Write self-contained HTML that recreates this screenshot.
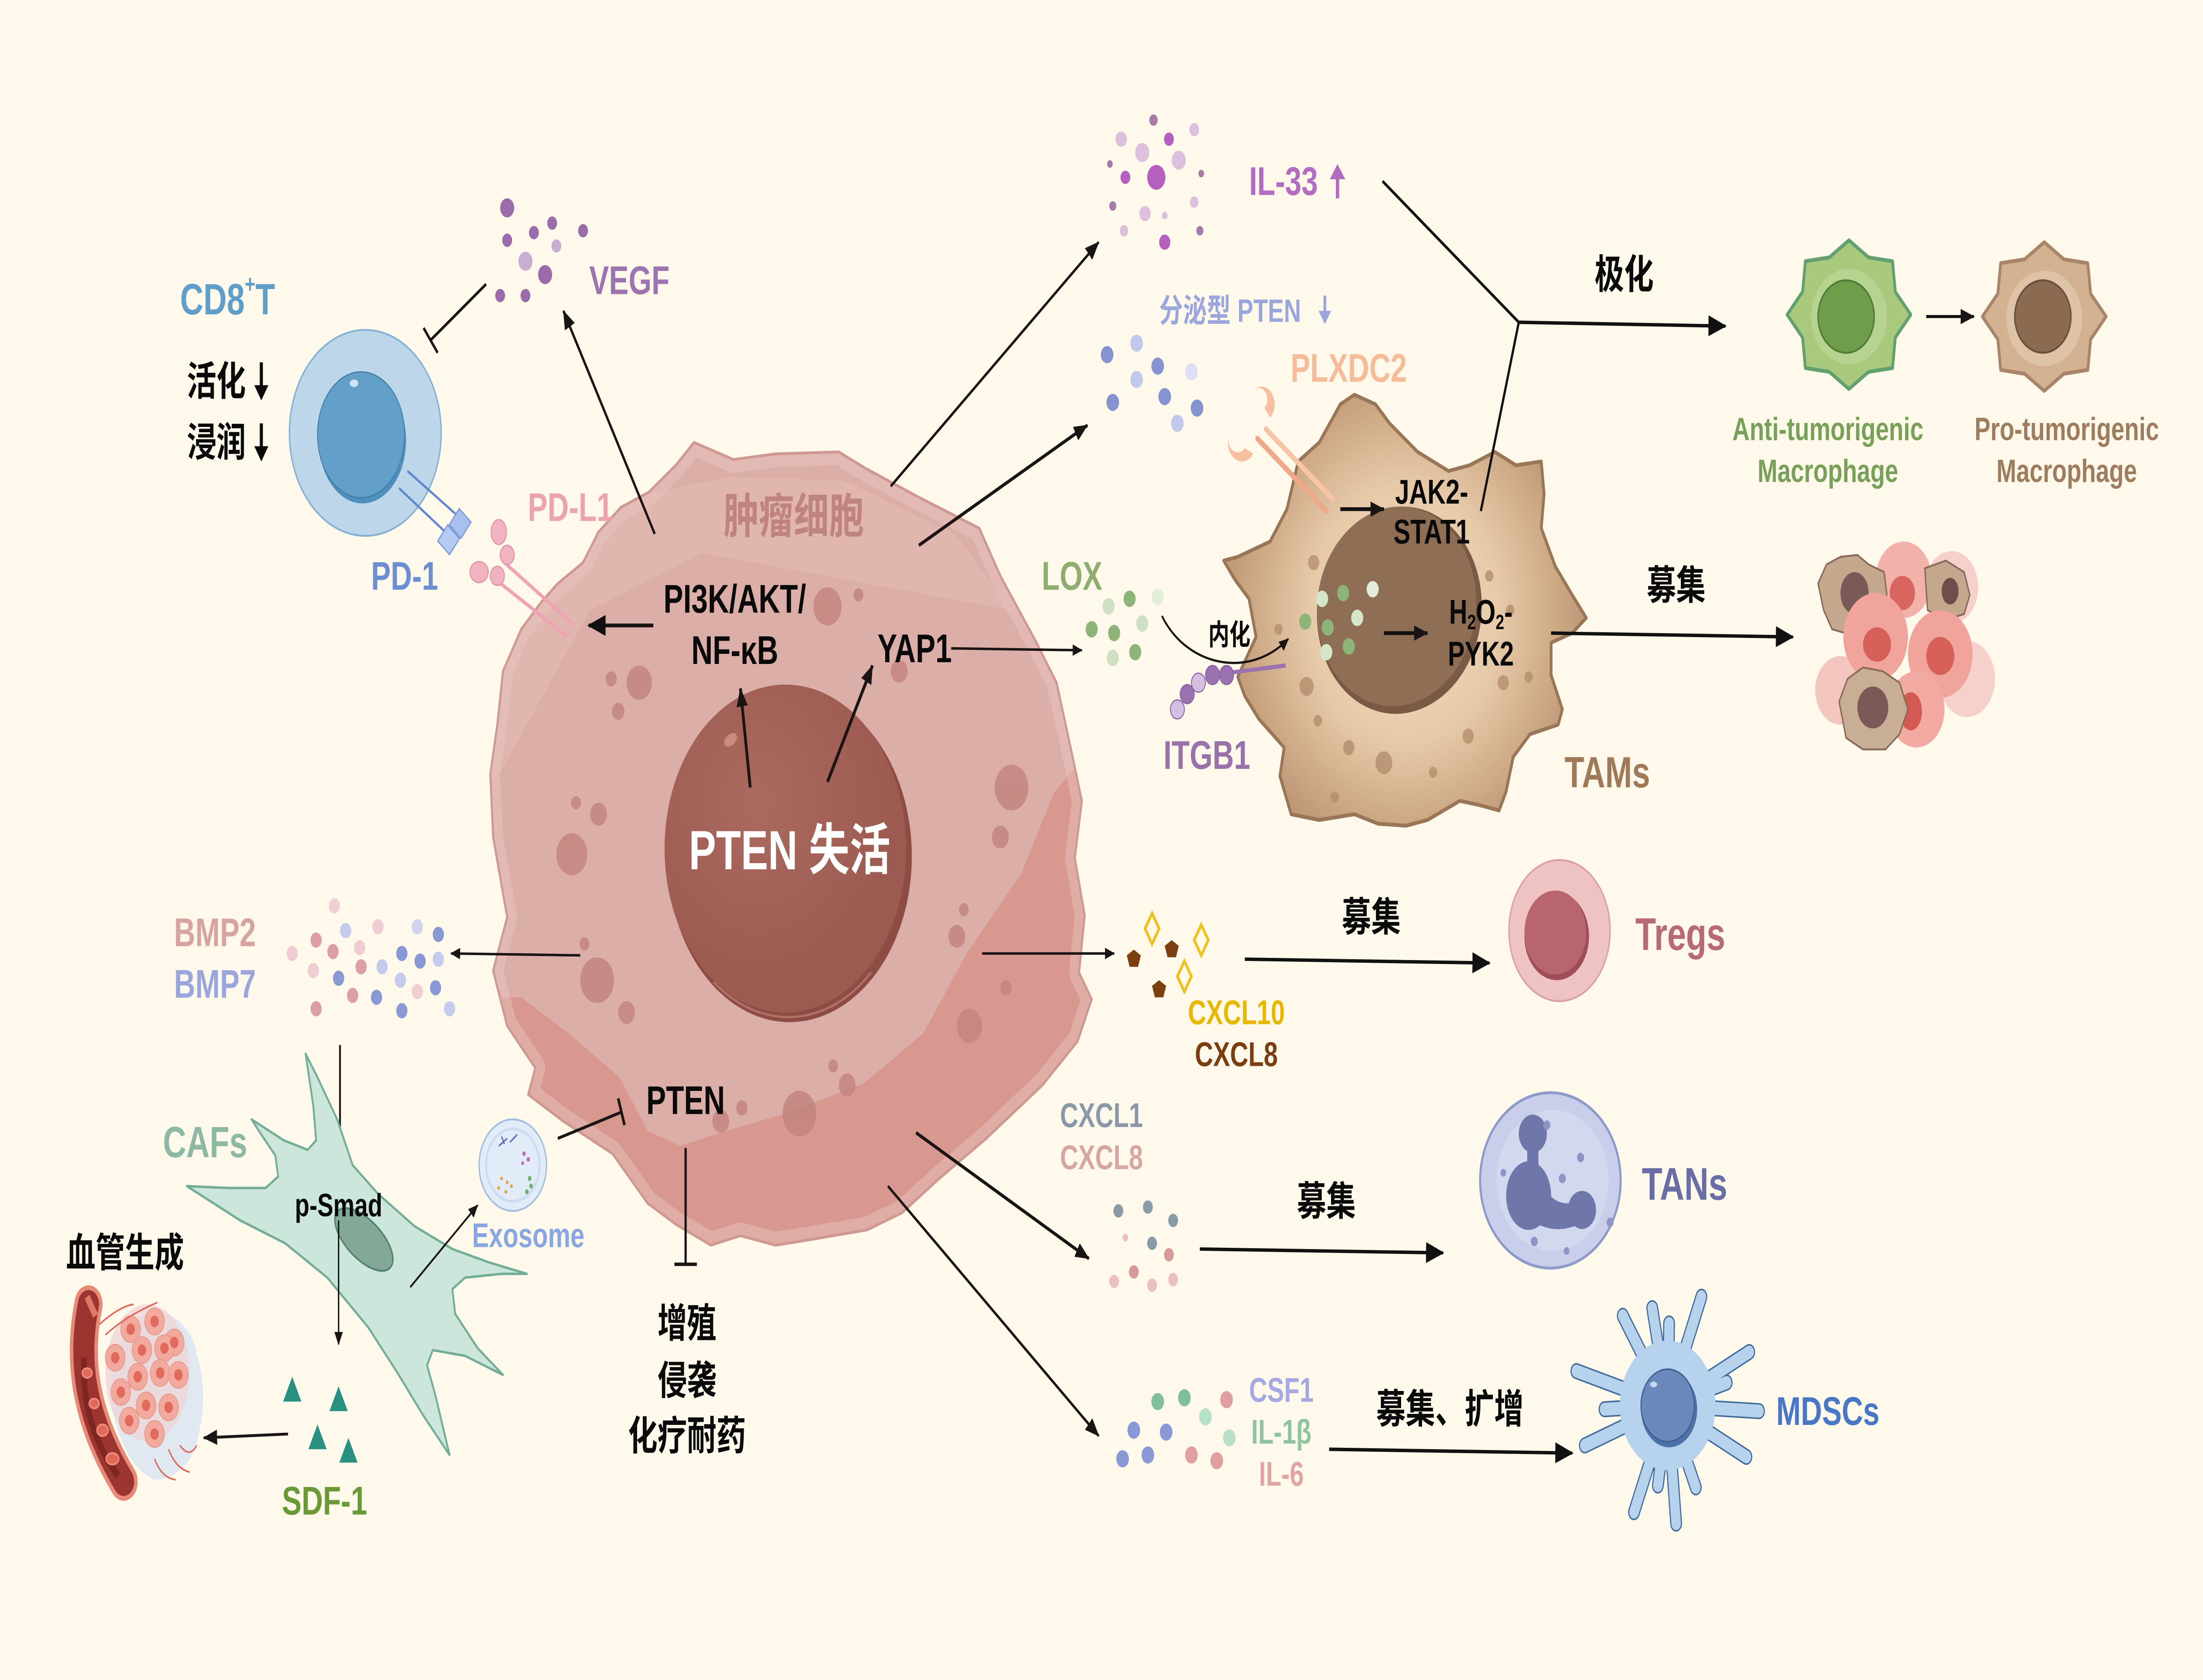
<!DOCTYPE html>
<html><head><meta charset="utf-8">
<style>
html,body{margin:0;padding:0;background:#fef9ea;width:100%;height:100%;overflow:hidden;}
svg{display:block;width:100vw;height:100vh;}
text{font-family:"Liberation Sans","Noto Sans CJK SC",sans-serif;font-weight:bold;dominant-baseline:central;}
</style></head><body>
<svg width="100%" height="100%" viewBox="0 0 1568 881" preserveAspectRatio="none" xmlns="http://www.w3.org/2000/svg">
<defs>
<marker id="a1" markerUnits="userSpaceOnUse" markerWidth="13" markerHeight="11" refX="12" refY="5.5" orient="auto"><path d="M0,0 L13,5.5 L0,11 z" fill="#111"/></marker>
<marker id="a2" markerUnits="userSpaceOnUse" markerWidth="10" markerHeight="8" refX="9.5" refY="4" orient="auto"><path d="M0,0 L10,4 L0,8 z" fill="#1a1414"/></marker>
<marker id="a3" markerUnits="userSpaceOnUse" markerWidth="7" markerHeight="6" refX="6.5" refY="3" orient="auto"><path d="M0,0 L7,3 L0,6 z" fill="#1a1414"/></marker>
<clipPath id="tc"><polygon points="494,232 522,241 552,238 597,237 617,246 652,260 697,277 712,302 737,336 752,358 762,392 770,420 765,450 772,480 768,510 777,524 767,546 742,569 702,597 667,619 642,636 617,645 577,650 552,653 527,648 506,653 481,642 461,631 436,605 401,588 376,574 381,560 361,538 351,509 361,481 351,439 349,406 354,380 358,352 371,330 385,316 397,306 415,295 426,279 442,266 462,258 481,244"/></clipPath>
<radialGradient id="tamg" cx="1000" cy="322" r="135" gradientUnits="userSpaceOnUse">
<stop offset="0" stop-color="#f3dec4"/><stop offset="0.5" stop-color="#e6caa8"/><stop offset="0.78" stop-color="#cfab88"/><stop offset="1" stop-color="#bb9372"/></radialGradient>
<radialGradient id="nucg" cx="540" cy="420" r="100" gradientUnits="userSpaceOnUse">
<stop offset="0" stop-color="#ab6a5f"/><stop offset="1" stop-color="#9c5a50"/></radialGradient>
</defs>

<rect x="0" y="0" width="1568" height="881" fill="#fef9ea"/>

<!-- ============ TUMOR CELL ============ -->
<g clip-path="url(#tc)">
<rect x="340" y="225" width="450" height="440" fill="#dcaea8"/>
<polygon points="340,300 440,262 520,250 600,252 680,280 720,320 500,290 420,320 360,400 340,420" fill="#e2bab4" opacity="0.6"/>
<polygon points="340,523 371,523 405,542 441,565 461,593 484,601 517,593 559,584 615,568 657,542 688,500 727,458 750,416 790,380 790,680 340,680" fill="#d8978f"/>
<polygon points="494,232 522,241 552,238 597,237 617,246 652,260 697,277 712,302 737,336 752,358 762,392 770,420 765,450 772,480 768,510 777,524 767,546 742,569 702,597 667,619 642,636 617,645 577,650 552,653 527,648 506,653 481,642 461,631 436,605 401,588 376,574 381,560 361,538 351,509 361,481 351,439 349,406 354,380 358,352 371,330 385,316 397,306 415,295 426,279 442,266 462,258 481,244" fill="none" stroke="#e8c3bd" stroke-width="14" opacity="0.5" stroke-linejoin="round"/>
</g>
<polygon points="494,232 522,241 552,238 597,237 617,246 652,260 697,277 712,302 737,336 752,358 762,392 770,420 765,450 772,480 768,510 777,524 767,546 742,569 702,597 667,619 642,636 617,645 577,650 552,653 527,648 506,653 481,642 461,631 436,605 401,588 376,574 381,560 361,538 351,509 361,481 351,439 349,406 354,380 358,352 371,330 385,316 397,306 415,295 426,279 442,266 462,258 481,244" fill="none" stroke="#cf9891" stroke-width="1.5" stroke-linejoin="round"/>
<g fill="#c4857f" opacity="0.85">
<circle cx="589" cy="318" r="10"/><circle cx="611" cy="312" r="3.5"/><circle cx="455" cy="358" r="9"/><circle cx="435" cy="356" r="4"/><circle cx="440" cy="373" r="4.5"/>
<circle cx="407" cy="448" r="11"/><circle cx="426" cy="427" r="6"/><circle cx="410" cy="421" r="3.5"/><circle cx="720" cy="413" r="12"/><circle cx="712" cy="439" r="6"/>
<circle cx="681" cy="491" r="6"/><circle cx="686" cy="477" r="3.5"/><circle cx="425" cy="514" r="12"/><circle cx="416" cy="495" r="3.5"/><circle cx="446" cy="531" r="6"/>
<circle cx="690" cy="538" r="9"/><circle cx="716" cy="518" r="4"/><circle cx="569" cy="584" r="12"/><circle cx="603" cy="569" r="6"/><circle cx="593" cy="559" r="3.5"/>
<circle cx="528" cy="581" r="4"/><circle cx="513" cy="588" r="6"/><circle cx="640" cy="352" r="6"/>
</g>
<!-- nucleus -->
<circle cx="562" cy="449" r="87" fill="#8e4d44"/>
<circle cx="559" cy="445" r="86" fill="url(#nucg)"/>
<path d="M 620 510 A 86 86 0 0 1 508 515" fill="none" stroke="#c98a80" stroke-width="1.2" opacity="0.6"/>
<ellipse cx="520" cy="388" rx="5" ry="3" fill="#c98a80" transform="rotate(-30 520 388)"/>
<text x="562" y="446" font-size="29" fill="#ffffff" text-anchor="middle">PTEN 失活</text>
<text x="565" y="271" font-size="25" fill="#c0847e" text-anchor="middle">肿瘤细胞</text>
<text x="523" y="314" font-size="21" fill="#0a0a0a" text-anchor="middle">PI3K/AKT/</text>
<text x="523" y="341" font-size="21" fill="#0a0a0a" text-anchor="middle">NF-κB</text>
<text x="651" y="340" font-size="21" fill="#0a0a0a" text-anchor="middle">YAP1</text>
<text x="488" y="577" font-size="21" fill="#0a0a0a" text-anchor="middle">PTEN</text>

<!-- ============ CD8 T cell ============ -->
<ellipse cx="260" cy="227" rx="54" ry="54" fill="#bdd6ea" stroke="#86b2d4" stroke-width="1"/>
<ellipse cx="258" cy="231" rx="31" ry="33" fill="#4f8fbd"/>
<ellipse cx="257" cy="228" rx="31" ry="33" fill="#62a0ca" stroke="#3f7aa5" stroke-width="0.6"/>
<ellipse cx="252" cy="201" rx="3" ry="2" fill="#cfe3f2"/>
<line x1="290" y1="247" x2="325" y2="270" stroke="#5f86d0" stroke-width="1.3"/>
<line x1="284" y1="256" x2="317" y2="279" stroke="#5f86d0" stroke-width="1.3"/>
<rect x="322" y="269" width="11" height="11" fill="#a9c0ee" stroke="#7f9ad8" stroke-width="0.8" transform="rotate(40 327.5 274.5)"/>
<rect x="314" y="278" width="11" height="11" fill="#b6cbf2" stroke="#7f9ad8" stroke-width="0.8" transform="rotate(40 320 283)"/>
<text x="162" y="157" font-size="23" fill="#5f9ec8" text-anchor="middle">CD8<tspan font-size="13" dy="-8">+</tspan><tspan dy="8">T</tspan></text>
<text x="175" y="200" font-size="21" fill="#0a0a0a" text-anchor="end">活化</text>
<text x="175" y="232" font-size="21" fill="#0a0a0a" text-anchor="end">浸润</text>
<g stroke="#0a0a0a" stroke-width="2.2" fill="#0a0a0a">
<line x1="186" y1="190" x2="186" y2="204"/><polygon points="181,202 191,202 186,210" stroke="none"/>
<line x1="186" y1="222" x2="186" y2="236"/><polygon points="181,234 191,234 186,242" stroke="none"/>
</g>
<text x="288" y="302" font-size="21" fill="#6d8ed2" text-anchor="middle">PD-1</text>

<!-- PD-L1 -->
<line x1="359" y1="295" x2="409" y2="328" stroke="#efa4b6" stroke-width="2"/>
<line x1="353" y1="304" x2="404" y2="334" stroke="#efa4b6" stroke-width="2"/>
<ellipse cx="355" cy="279" rx="5.5" ry="6.5" fill="#f2b3c1" stroke="#e494a8" stroke-width="0.7"/>
<circle cx="361" cy="291" r="5" fill="#f2b3c1" stroke="#e494a8" stroke-width="0.7"/>
<ellipse cx="341" cy="300" rx="6.5" ry="5.5" fill="#f2b3c1" stroke="#e494a8" stroke-width="0.7"/>
<circle cx="354" cy="302" r="5" fill="#f2b3c1" stroke="#e494a8" stroke-width="0.7"/>
<text x="406" y="266" font-size="21" fill="#eca3b0" text-anchor="middle">PD-L1</text>

<!-- VEGF -->
<g fill="#9a6ca9">
<circle cx="361" cy="109" r="5"/><circle cx="393" cy="117" r="3.5"/><circle cx="415" cy="121" r="3.5"/><circle cx="380" cy="122" r="3.5"/><circle cx="361" cy="126" r="3.5"/>
<circle cx="388" cy="144" r="5"/><circle cx="356" cy="155" r="3.5"/><circle cx="374" cy="155" r="3.5"/>
</g>
<circle cx="396" cy="129" r="3.5" fill="#c8afd2"/><circle cx="374" cy="137" r="5" fill="#c8afd2"/>
<text x="448" y="147" font-size="21" fill="#9c74b0" text-anchor="middle">VEGF</text>

<!-- ============ ARROWS (left/center) ============ -->
<g stroke="#1a1414" fill="none">
<line x1="466" y1="280" x2="401" y2="163" stroke-width="1.6" marker-end="url(#a2)"/>
<line x1="346" y1="149" x2="307" y2="178" stroke-width="1.6"/>
<line x1="301.5" y1="172" x2="311.5" y2="185" stroke-width="1.6"/>
<line x1="465" y1="328" x2="419" y2="328" stroke-width="2" marker-end="url(#a1)"/>
<line x1="534" y1="413" x2="527" y2="361" stroke-width="2" marker-end="url(#a2)"/>
<line x1="589" y1="410" x2="621" y2="349" stroke-width="2" marker-end="url(#a2)"/>
<line x1="677" y1="340" x2="770" y2="341" stroke-width="1.3" marker-end="url(#a3)"/>
<line x1="634" y1="255" x2="782" y2="127" stroke-width="1.5" marker-end="url(#a2)"/>
<line x1="654" y1="286" x2="774" y2="223" stroke-width="1.8" marker-end="url(#a2)"/>
<line x1="413" y1="501" x2="321" y2="500" stroke-width="1.3" marker-end="url(#a3)"/>
<line x1="699" y1="500" x2="793" y2="500" stroke-width="1.3" marker-end="url(#a3)"/>
<line x1="652" y1="594" x2="775" y2="660" stroke-width="1.8" marker-end="url(#a2)"/>
<line x1="632" y1="622" x2="782" y2="753" stroke-width="1.5" marker-end="url(#a2)"/>
<line x1="397" y1="597" x2="443" y2="583" stroke-width="1.6"/>
<line x1="440" y1="576" x2="444.5" y2="590" stroke-width="1.8"/>
<line x1="488" y1="602" x2="488" y2="663" stroke-width="1.6"/>
<line x1="480" y1="663" x2="496" y2="663" stroke-width="1.8"/>
<line x1="242" y1="548" x2="242" y2="614" stroke-width="1.3" marker-end="url(#a2)"/>
<line x1="205" y1="752" x2="145" y2="754" stroke-width="1.5" marker-end="url(#a2)"/>
</g>

<!-- ============ BMP ============ -->
<g>
<circle cx="238" cy="475" r="4" fill="#f0cfd4"/><circle cx="225" cy="493" r="4" fill="#dca0a4"/><circle cx="246" cy="488" r="4" fill="#c5cbec"/>
<circle cx="269" cy="486" r="4" fill="#efcdd2"/><circle cx="297" cy="486" r="4" fill="#cfd3f0"/><circle cx="312" cy="490" r="4" fill="#8a98d6"/>
<circle cx="208" cy="500" r="4" fill="#efcdd2"/><circle cx="237" cy="499" r="4" fill="#dca0a4"/><circle cx="256" cy="497" r="4" fill="#efcdd2"/>
<circle cx="286" cy="500" r="4" fill="#8a98d6"/><circle cx="299" cy="504" r="4" fill="#8a98d6"/><circle cx="312" cy="503" r="4" fill="#c5cbec"/>
<circle cx="223" cy="509" r="4" fill="#efcdd2"/><circle cx="241" cy="513" r="4" fill="#8a98d6"/><circle cx="257" cy="507" r="4" fill="#dca0a4"/>
<circle cx="272" cy="507" r="4" fill="#c5cbec"/><circle cx="285" cy="514" r="4" fill="#c5cbec"/><circle cx="297" cy="520" r="4" fill="#efcdd2"/>
<circle cx="310" cy="518" r="4" fill="#8a98d6"/><circle cx="251" cy="522" r="4" fill="#dca0a4"/><circle cx="268" cy="523" r="4" fill="#8a98d6"/>
<circle cx="225" cy="529" r="4" fill="#dca0a4"/><circle cx="286" cy="530" r="4" fill="#8a98d6"/><circle cx="320" cy="529" r="4" fill="#c5cbec"/>
</g>
<text x="153" y="489" font-size="21" fill="#d8a4a0" text-anchor="middle">BMP2</text>
<text x="153" y="516" font-size="21" fill="#9aa6dc" text-anchor="middle">BMP7</text>

<!-- ============ CAF ============ -->
<polygon points="217.5,552.6 226,565 240,587 251,611 269,626 295,643 322,655 348,662 375,668 357,668 331,670 322,676 324,689 340,707 358,721 331,711 308,708 304,716 310,732 320,763 301,742 283,720 262,696 233,670 203,652 171,640 133,622 163,623 189,623 198,617 196,606 186,595 179,587 202,598 219,603 225,598 223,580" fill="#cde6dc" stroke="#73ad98" stroke-width="1.3" stroke-linejoin="round"/>
<ellipse cx="259" cy="650" rx="24" ry="11" fill="#84a898" stroke="#4f8272" stroke-width="1" transform="rotate(35 259 650)"/>
<text x="146" y="599" font-size="23" fill="#8cb8a4" text-anchor="middle">CAFs</text>
<line x1="241" y1="640" x2="241" y2="705" stroke="#1a1414" stroke-width="1" marker-end="url(#a3)"/>
<text x="241" y="632" font-size="17" fill="#0a0a0a" text-anchor="middle">p-Smad</text>
<line x1="292" y1="675" x2="340" y2="632" stroke="#1a1414" stroke-width="1.1" marker-end="url(#a3)"/>

<!-- Exosome -->
<circle cx="365" cy="611" r="24" fill="#e2ecf8" stroke="#a6bfe0" stroke-width="1"/>
<circle cx="365" cy="611" r="19" fill="none" stroke="#cddcef" stroke-width="1.5"/>
<g fill="#e8a050"><circle cx="357" cy="618" r="1"/><circle cx="361" cy="620" r="1"/><circle cx="355" cy="623" r="1"/><circle cx="360" cy="625" r="1"/><circle cx="364" cy="622" r="1"/></g>
<g fill="#c070b0"><circle cx="373" cy="605" r="1.2"/><circle cx="376" cy="608" r="1.2"/><circle cx="372" cy="610" r="1"/></g>
<g fill="#70b070"><circle cx="377" cy="618" r="1.3"/><circle cx="378" cy="622" r="1.3"/><circle cx="375" cy="625" r="1.3"/></g>
<path d="M355 601 l6 -4 M357 596 l2 4 M363 599 l5 -4" stroke="#6070b8" stroke-width="0.9"/>
<text x="376" y="648" font-size="18" fill="#88a6e0" text-anchor="middle">Exosome</text>

<!-- SDF-1 -->
<g fill="#2a9080">
<polygon points="208,722 201.5,735 214.5,735"/><polygon points="241,727 234.5,740 247.5,740"/>
<polygon points="226,747 219.5,760 232.5,760"/><polygon points="248,754 241.5,767 254.5,767"/>
</g>
<text x="231" y="787" font-size="21" fill="#6a9a38" text-anchor="middle">SDF-1</text>
<text x="89" y="657" font-size="21" fill="#0a0a0a" text-anchor="middle">血管生成</text>

<!-- vessel & tumor -->
<path d="M108,687 Q135,690 140,710 Q148,730 142,750 Q136,775 110,776 Q90,770 80,740 Q75,700 108,687z" fill="#dde6f2" opacity="0.9"/>
<ellipse cx="105" cy="720" rx="30" ry="36" fill="#ecd6d8" opacity="0.8"/>
<g fill="#f2aa9e" stroke="#e6968a" stroke-width="0.5">
<circle cx="93" cy="697" r="7"/><circle cx="110" cy="693" r="7"/><circle cx="124" cy="704" r="7"/><circle cx="101" cy="708" r="7"/><circle cx="117" cy="707" r="7"/>
<circle cx="82" cy="712" r="7"/><circle cx="98" cy="722" r="7"/><circle cx="114" cy="720" r="7"/><circle cx="127" cy="721" r="7"/>
<circle cx="86" cy="730" r="7"/><circle cx="104" cy="737" r="7"/><circle cx="120" cy="738" r="7"/><circle cx="92" cy="745" r="7"/><circle cx="110" cy="752" r="7"/>
</g>
<g fill="#e06a5e">
<circle cx="93" cy="697" r="3"/><circle cx="110" cy="693" r="3"/><circle cx="124" cy="704" r="3"/><circle cx="101" cy="708" r="3"/><circle cx="117" cy="707" r="3"/>
<circle cx="82" cy="712" r="3"/><circle cx="98" cy="722" r="3"/><circle cx="114" cy="720" r="3"/><circle cx="127" cy="721" r="3"/>
<circle cx="86" cy="730" r="3"/><circle cx="104" cy="737" r="3"/><circle cx="120" cy="738" r="3"/><circle cx="92" cy="745" r="3"/><circle cx="110" cy="752" r="3"/>
</g>
<path d="M70,695 Q85,685 95,684 M75,700 Q90,690 112,683 M120,760 Q125,770 135,772 M128,758 Q135,765 140,758 M110,765 Q115,775 125,776" stroke="#e06858" stroke-width="0.9" fill="none"/>
<path d="M63,684 C56,710 58,740 88,777" stroke="#e88a78" stroke-width="20" fill="none" stroke-linecap="round"/>
<path d="M63,684 C56,710 58,740 88,777" stroke="#9c3430" stroke-width="15" fill="none" stroke-linecap="round"/>
<path d="M60,712 C58,735 66,755 84,774" stroke="#7e2622" stroke-width="4" fill="none"/>
<g fill="#e0695a" stroke="#f08a7a" stroke-width="1"><ellipse cx="62" cy="720" rx="3.5" ry="2.5"/><ellipse cx="67" cy="736" rx="3.5" ry="2.5"/><ellipse cx="73" cy="750" rx="4" ry="3"/><ellipse cx="80" cy="765" rx="4.5" ry="3"/></g>
<path d="M62,680 L68,690" stroke="#e07866" stroke-width="4"/>

<!-- ============ PTEN outcomes ============ -->
<text x="489" y="694" font-size="21" fill="#0a0a0a" text-anchor="middle">增殖</text>
<text x="489" y="724" font-size="21" fill="#0a0a0a" text-anchor="middle">侵袭</text>
<text x="489" y="753" font-size="21" fill="#0a0a0a" text-anchor="middle">化疗耐药</text>

<!-- ============ IL-33 ============ -->
<g>
<circle cx="821" cy="63" r="3" fill="#a87aa8"/><circle cx="798" cy="73" r="4" fill="#dcc0de"/><circle cx="832" cy="73" r="3.5" fill="#b55fbf"/><circle cx="850" cy="68" r="3.5" fill="#dcc0de"/>
<circle cx="813" cy="80" r="5" fill="#dcc0de"/><circle cx="839" cy="84" r="5" fill="#dcc0de"/><circle cx="790" cy="86" r="2" fill="#a87aa8"/><circle cx="823" cy="93" r="6.5" fill="#b55fbf"/>
<circle cx="801" cy="93" r="3.5" fill="#b55fbf"/><circle cx="855" cy="91" r="2" fill="#a87aa8"/><circle cx="792" cy="108" r="2.5" fill="#a87aa8"/><circle cx="815" cy="112" r="4" fill="#dcc0de"/>
<circle cx="829" cy="113" r="2" fill="#dcc0de"/><circle cx="850" cy="106" r="3" fill="#dcc0de"/><circle cx="800" cy="121" r="3" fill="#dcc0de"/><circle cx="829" cy="127" r="4" fill="#b55fbf"/><circle cx="854" cy="121" r="2.5" fill="#a87aa8"/>
</g>
<text x="889" y="95" font-size="21" fill="#b26cc0">IL-33</text>
<g stroke="#b26cc0" stroke-width="2.4" fill="#b26cc0">
<line x1="952" y1="92" x2="952" y2="104"/><polygon points="946.5,94 957.5,94 952,86" stroke="none"/>
</g>

<!-- secreted PTEN -->
<g>
<circle cx="788" cy="186" r="4.5" fill="#8593d0"/><circle cx="809" cy="180" r="4.5" fill="#c3c9ec"/><circle cx="824" cy="192" r="4.5" fill="#8593d0"/>
<circle cx="848" cy="195" r="4.5" fill="#dde0f4"/><circle cx="809" cy="199" r="4.5" fill="#c3c9ec"/><circle cx="792" cy="211" r="4.5" fill="#8593d0"/>
<circle cx="829" cy="208" r="4.5" fill="#8593d0"/><circle cx="852" cy="214" r="4.5" fill="#8593d0"/><circle cx="838" cy="222" r="4.5" fill="#c3c9ec"/>
</g>
<text x="825" y="163" font-size="17" fill="#9aa6dc">分泌型 PTEN</text>
<g stroke="#9aa6dc" stroke-width="2" fill="#9aa6dc">
<line x1="943" y1="155" x2="943" y2="165"/><polygon points="938.5,163 947.5,163 943,170" stroke="none"/>
</g>
<text x="960" y="193" font-size="21" fill="#f4bc98" text-anchor="middle">PLXDC2</text>

<!-- ============ TAM ============ -->
<polygon points="964,207 979,212 989,222 1009,237 1031,247 1046,244 1064,237 1079,244 1097,242 1099,259 1097,277 1107,297 1119,312 1129,324 1119,332 1104,337 1104,354 1112,372 1109,380 1089,385 1077,397 1072,415 1067,425 1052,422 1039,420 1016,430 1001,433 981,432 964,427 939,430 919,427 911,407 914,392 896,377 886,365 881,355 894,334 889,314 879,304 871,294 881,292 904,284 916,267 924,242 939,232 954,212" fill="url(#tamg)" stroke="#9a7658" stroke-width="2" stroke-linejoin="round"/>
<g fill="#b48e6e" opacity="0.8">
<circle cx="935" cy="295" r="4"/><circle cx="930" cy="360" r="5"/><circle cx="938" cy="378" r="3"/><circle cx="960" cy="392" r="4"/><circle cx="985" cy="400" r="6"/>
<circle cx="1060" cy="302" r="3"/><circle cx="1075" cy="320" r="3"/><circle cx="1070" cy="358" r="4"/><circle cx="1045" cy="386" r="4"/><circle cx="1020" cy="405" r="3"/>
<circle cx="910" cy="330" r="3"/><circle cx="1088" cy="355" r="3"/><circle cx="950" cy="418" r="3"/>
</g>
<ellipse cx="996" cy="320" rx="59" ry="54" fill="#7a5a45" transform="rotate(-15 996 320)"/>
<ellipse cx="994" cy="318" rx="57" ry="52" fill="#8f6e56" transform="rotate(-15 994 318)"/>
<!-- PLXDC2 receptor -->
<line x1="895" y1="230" x2="944" y2="268" stroke="#f0a888" stroke-width="3" stroke-linecap="round"/>
<line x1="901" y1="225" x2="949" y2="262" stroke="#f6c4a6" stroke-width="3" stroke-linecap="round"/>
<path d="M892,205 a9,9 0 1 1 12,14 l-4,-5 a4,4 0 0 0 -8,-9z" fill="#f6bf9f"/>
<path d="M876,226 a10,10 0 1 0 16,12 l-6,-3 a4,4 0 0 1 -10,-9z" fill="#f6bf9f"/>
<!-- green LOX dots -->
<g>
<circle cx="941" cy="314" r="4.3" fill="#d4e6c8"/><circle cx="956" cy="311" r="4.3" fill="#8db57a"/><circle cx="977" cy="309" r="4.3" fill="#e2eed8"/>
<circle cx="929" cy="326" r="4.3" fill="#8db57a"/><circle cx="945" cy="329" r="4.3" fill="#8db57a"/><circle cx="966" cy="324" r="4.3" fill="#d4e6c8"/>
<circle cx="944" cy="342" r="4.3" fill="#d4e6c8"/><circle cx="960" cy="339" r="4.3" fill="#8db57a"/>
<circle cx="789" cy="318" r="4.3" fill="#cfe0c3"/><circle cx="804" cy="314" r="4.3" fill="#8db57a"/><circle cx="824" cy="313" r="4.3" fill="#e2eed8"/>
<circle cx="777" cy="330" r="4.3" fill="#8db57a"/><circle cx="793" cy="332" r="4.3" fill="#8db57a"/><circle cx="813" cy="327" r="4.3" fill="#cfe0c3"/>
<circle cx="792" cy="345" r="4.3" fill="#cfe0c3"/><circle cx="808" cy="342" r="4.3" fill="#8db57a"/>
</g>
<text x="763" y="302" font-size="21" fill="#8eae6f" text-anchor="middle">LOX</text>
<path d="M827,323 C845,350 890,356 917,335" stroke="#1a1414" stroke-width="1.2" fill="none" marker-end="url(#a3)"/>
<text x="875" y="333" font-size="15" fill="#0a0a0a" text-anchor="middle">内化</text>
<!-- ITGB1 -->
<line x1="873" y1="353" x2="915" y2="349" stroke="#9b72b0" stroke-width="2.2"/>
<g stroke="#8a62a0" stroke-width="0.6">
<circle cx="838" cy="372" r="5" fill="#d4bfe0"/><circle cx="845" cy="364" r="5" fill="#9b72b0"/><circle cx="853" cy="358" r="5" fill="#d4bfe0"/><circle cx="863" cy="354" r="5" fill="#9b72b0"/><circle cx="873" cy="354" r="5" fill="#9b72b0"/>
</g>
<text x="859" y="396" font-size="21" fill="#9a72aa" text-anchor="middle">ITGB1</text>
<g stroke="#111" stroke-width="2" fill="none">
<line x1="954" y1="267" x2="985" y2="267" marker-end="url(#a2)"/>
<line x1="985" y1="332" x2="1016" y2="332" marker-end="url(#a2)"/>
</g>
<text x="1019" y="258" font-size="18" fill="#0a0a0a" text-anchor="middle">JAK2-</text>
<text x="1019" y="279" font-size="18" fill="#0a0a0a" text-anchor="middle">STAT1</text>
<text x="1054" y="321" font-size="18" fill="#0a0a0a" text-anchor="middle">H<tspan font-size="11" dy="5">2</tspan><tspan dy="-5">O</tspan><tspan font-size="11" dy="5">2</tspan><tspan dy="-5">-</tspan></text>
<text x="1054" y="343" font-size="18" fill="#0a0a0a" text-anchor="middle">PYK2</text>
<text x="1144" y="405" font-size="23" fill="#9e7a58" text-anchor="middle">TAMs</text>

<!-- polarization -->
<g stroke="#111" fill="none">
<line x1="984" y1="95" x2="1081" y2="169" stroke-width="1.6"/>
<line x1="1054" y1="268" x2="1081" y2="169" stroke-width="1.6"/>
<line x1="1081" y1="169" x2="1228" y2="171" stroke-width="1.8" marker-end="url(#a1)"/>
<line x1="1371" y1="166" x2="1405" y2="166" stroke-width="1.6" marker-end="url(#a2)"/>
<line x1="1104" y1="332" x2="1276" y2="334" stroke-width="1.8" marker-end="url(#a1)"/>
<line x1="886" y1="503" x2="1060" y2="505" stroke-width="1.8" marker-end="url(#a1)"/>
<line x1="854" y1="655" x2="1027" y2="657" stroke-width="1.8" marker-end="url(#a1)"/>
<line x1="946" y1="760" x2="1119" y2="762" stroke-width="1.8" marker-end="url(#a1)"/>
</g>
<text x="1156" y="144" font-size="21" fill="#0a0a0a" text-anchor="middle">极化</text>

<!-- macrophages -->
<polygon points="1360,165 1349,177 1347,193 1330,195 1316,204 1302,195 1285,193 1283,177 1272,165 1283,153 1285,137 1302,135 1316,126 1330,135 1347,137 1349,153" fill="#a9c97c" stroke="#62a070" stroke-width="2" stroke-linejoin="round"/>
<ellipse cx="1316" cy="166" rx="27" ry="25" fill="#bcd898" opacity="0.7"/>
<ellipse cx="1314" cy="166" rx="20" ry="19" fill="#6f9d4a" stroke="#4f7a38" stroke-width="1"/>
<polygon points="1499,166 1488,178 1486,194 1469,196 1455,205 1441,196 1424,194 1422,178 1411,166 1422,154 1424,138 1441,136 1455,127 1469,136 1486,138 1488,154" fill="#d3b291" stroke="#a8846a" stroke-width="2" stroke-linejoin="round"/>
<ellipse cx="1455" cy="167" rx="27" ry="25" fill="#e4cbb0" opacity="0.7"/>
<ellipse cx="1454" cy="166" rx="20" ry="19" fill="#8a6a50" stroke="#6a4e3c" stroke-width="1"/>
<text x="1301" y="225" font-size="17" fill="#79a058" text-anchor="middle">Anti-tumorigenic</text>
<text x="1301" y="247" font-size="17" fill="#79a058" text-anchor="middle">Macrophage</text>
<text x="1471" y="225" font-size="17" fill="#9e7c5e" text-anchor="middle">Pro-tumorigenic</text>
<text x="1471" y="247" font-size="17" fill="#9e7c5e" text-anchor="middle">Macrophage</text>
<text x="1193" y="307" font-size="21" fill="#0a0a0a" text-anchor="middle">募集</text>

<!-- cluster -->
<g>
<circle cx="1389" cy="308" r="19" fill="#f6d0ca"/><circle cx="1400" cy="356" r="20" fill="#f6d0ca"/><circle cx="1310" cy="362" r="18" fill="#f4c6c0"/>
<circle cx="1355" cy="304" r="20" fill="#f2b2aa"/>
<circle cx="1354" cy="311" r="9" fill="#d8665e"/>
<polygon points="1294,306 1300,296 1310,292 1322,291 1330,296 1341,300 1343,312 1339,324 1330,333 1318,333 1304,330 1298,320" fill="#c4a88e" stroke="#8a6a5a" stroke-width="1"/>
<ellipse cx="1320" cy="311" rx="10" ry="11" fill="#7a5a56"/>
<polygon points="1370,298 1385,294 1398,300 1402,312 1398,322 1385,325 1372,320" fill="#c4a88e" stroke="#8a6a5a" stroke-width="1"/>
<ellipse cx="1388" cy="310" rx="6" ry="7" fill="#6e4e4a"/>
<circle cx="1335" cy="334" r="23" fill="#f0a49c"/><ellipse cx="1336" cy="338" rx="10" ry="9" fill="#d8605a"/>
<circle cx="1381" cy="343" r="23" fill="#f0a49c"/><ellipse cx="1381" cy="344" rx="10" ry="10" fill="#d8605a"/>
<circle cx="1364" cy="372" r="20" fill="#f2aaa2"/><ellipse cx="1360" cy="373" rx="8" ry="10" fill="#d45a54"/>
<polygon points="1309,368 1315,356 1326,350 1340,352 1352,358 1358,372 1352,385 1342,393 1326,393 1314,387" fill="#c8ae94" stroke="#8a6a5a" stroke-width="1"/>
<ellipse cx="1333" cy="371" rx="11" ry="11" fill="#7a5a56"/>
</g>

<!-- ============ Tregs ============ -->
<g>
<polygon points="820,479 825,487 820,495 815,487" fill="none" stroke="#f0c020" stroke-width="1.8"/>
<polygon points="855,485 860,493 855,501 850,493" fill="none" stroke="#f0c020" stroke-width="1.8"/>
<polygon points="843,504 848,512 843,520 838,512" fill="none" stroke="#f0c020" stroke-width="1.8"/>
<polygon points="807,498 812,501 810,507 804,507 802,501" fill="#7b3f10"/>
<polygon points="834,493 839,496 837,502 831,502 829,496" fill="#7b3f10"/>
<polygon points="825,514 830,517 828,523 822,523 820,517" fill="#7b3f10"/>
</g>
<text x="880" y="531" font-size="18" fill="#e8b800" text-anchor="middle">CXCL10</text>
<text x="880" y="553" font-size="18" fill="#7a3e12" text-anchor="middle">CXCL8</text>
<text x="976" y="481" font-size="21" fill="#0a0a0a" text-anchor="middle">募集</text>
<ellipse cx="1110" cy="488" rx="36" ry="37" fill="#eec3c2" stroke="#dba0a2" stroke-width="1"/>
<circle cx="1108" cy="491" r="23" fill="#9e4e58"/>
<circle cx="1107" cy="489" r="22" fill="#b8656d"/>
<text x="1196" y="490" font-size="24" fill="#b86a74" text-anchor="middle">Tregs</text>

<!-- ============ TANs ============ -->
<g>
<circle cx="796" cy="635" r="3.5" fill="#8a9aa6"/><circle cx="817" cy="633" r="3.5" fill="#8a9aa6"/><circle cx="835" cy="640" r="3.5" fill="#8a9aa6"/>
<circle cx="820" cy="652" r="3.5" fill="#8a9aa6"/><circle cx="832" cy="658" r="3.5" fill="#d89a98"/><circle cx="801" cy="649" r="2" fill="#eac0c4"/>
<circle cx="807" cy="667" r="3.5" fill="#d89a98"/><circle cx="793" cy="672" r="3.5" fill="#eac0c4"/><circle cx="820" cy="674" r="3.5" fill="#eac0c4"/><circle cx="835" cy="671" r="3.5" fill="#eac0c4"/>
</g>
<text x="784" y="585" font-size="18" fill="#8a98a8" text-anchor="middle">CXCL1</text>
<text x="784" y="607" font-size="18" fill="#d8a6a2" text-anchor="middle">CXCL8</text>
<text x="944" y="630" font-size="21" fill="#0a0a0a" text-anchor="middle">募集</text>
<ellipse cx="1103.5" cy="619" rx="50" ry="46" fill="#c9cfea" stroke="#8e9bc8" stroke-width="1.5"/>
<ellipse cx="1105" cy="619" rx="40" ry="37" fill="#d6dbf0" opacity="0.7"/>
<g fill="#6f76aa">
<circle cx="1091" cy="594.5" r="10"/>
<rect x="1087" y="596" width="8" height="16"/>
<ellipse cx="1088" cy="627" rx="16" ry="18"/>
<circle cx="1126" cy="634.5" r="10"/>
<path d="M1090,640 Q1106,648 1124,642 L1122,630 Q1108,634 1098,622z"/>
</g>
<g fill="#8e95c4"><circle cx="1101" cy="590" r="2.5"/><circle cx="1125" cy="607" r="2.5"/><circle cx="1112" cy="618" r="2.5"/><circle cx="1070" cy="615" r="2"/><circle cx="1146" cy="641" r="2.5"/><circle cx="1092" cy="651" r="2.5"/><circle cx="1115" cy="656" r="2"/></g>
<text x="1199" y="621" font-size="24" fill="#6a6ea6" text-anchor="middle">TANs</text>

<!-- ============ MDSCs ============ -->
<g>
<circle cx="824" cy="735" r="4.5" fill="#7fbf9a"/><circle cx="843" cy="733" r="4.5" fill="#7fbf9a"/><circle cx="873" cy="734" r="4.5" fill="#e0a0a0"/>
<circle cx="858" cy="743" r="4.5" fill="#b8e0c8"/><circle cx="807" cy="750" r="4.5" fill="#8a98d8"/><circle cx="830" cy="751" r="4.5" fill="#8a98d8"/>
<circle cx="875" cy="754" r="4.5" fill="#b8e0c8"/><circle cx="799" cy="765" r="4.5" fill="#8a98d8"/><circle cx="817" cy="763" r="4.5" fill="#8a98d8"/>
<circle cx="848" cy="763" r="4.5" fill="#e0a0a0"/><circle cx="866" cy="766" r="4.5" fill="#e0a0a0"/>
</g>
<text x="912" y="729" font-size="18" fill="#a6a8e4" text-anchor="middle">CSF1</text>
<text x="912" y="751" font-size="18" fill="#8ec4a0" text-anchor="middle">IL-1β</text>
<text x="912" y="773" font-size="18" fill="#e0a4a4" text-anchor="middle">IL-6</text>
<text x="1032" y="739" font-size="21" fill="#0a0a0a" text-anchor="middle">募集、扩增</text>
<g stroke="#3f6a9c" stroke-width="8.4" stroke-linecap="round" fill="none">
<line x1="1187" y1="737" x2="1211" y2="680"/><line x1="1187" y1="737" x2="1176" y2="686"/><line x1="1187" y1="737" x2="1188" y2="694"/>
<line x1="1187" y1="737" x2="1155" y2="690"/><line x1="1187" y1="737" x2="1122" y2="719"/><line x1="1187" y1="737" x2="1142" y2="739"/>
<line x1="1187" y1="737" x2="1128" y2="758"/><line x1="1187" y1="737" x2="1163" y2="793"/><line x1="1187" y1="737" x2="1180" y2="779"/>
<line x1="1187" y1="737" x2="1193" y2="799"/><line x1="1187" y1="737" x2="1207" y2="780"/><line x1="1187" y1="737" x2="1243" y2="764"/>
<line x1="1187" y1="737" x2="1252" y2="740"/><line x1="1187" y1="737" x2="1229" y2="725"/><line x1="1187" y1="737" x2="1245" y2="709"/>
</g>
<g stroke="#b6d2ec" stroke-width="6.8" stroke-linecap="round" fill="none">
<line x1="1187" y1="737" x2="1211" y2="680"/><line x1="1187" y1="737" x2="1176" y2="686"/><line x1="1187" y1="737" x2="1188" y2="694"/>
<line x1="1187" y1="737" x2="1155" y2="690"/><line x1="1187" y1="737" x2="1122" y2="719"/><line x1="1187" y1="737" x2="1142" y2="739"/>
<line x1="1187" y1="737" x2="1128" y2="758"/><line x1="1187" y1="737" x2="1163" y2="793"/><line x1="1187" y1="737" x2="1180" y2="779"/>
<line x1="1187" y1="737" x2="1193" y2="799"/><line x1="1187" y1="737" x2="1207" y2="780"/><line x1="1187" y1="737" x2="1243" y2="764"/>
<line x1="1187" y1="737" x2="1252" y2="740"/><line x1="1187" y1="737" x2="1229" y2="725"/><line x1="1187" y1="737" x2="1245" y2="709"/>
</g>
<circle cx="1187" cy="737" r="34" fill="#b6d2ec"/>
<circle cx="1188" cy="739" r="20" fill="#4c72aa"/>
<circle cx="1187" cy="737" r="19" fill="#6a88ba" stroke="#3f5f92" stroke-width="0.8"/>
<ellipse cx="1177" cy="726" rx="2.5" ry="1.5" fill="#c8d8ee"/>
<text x="1301" y="740" font-size="21" fill="#4a76c6" text-anchor="middle">MDSCs</text>
</svg>
</body></html>
